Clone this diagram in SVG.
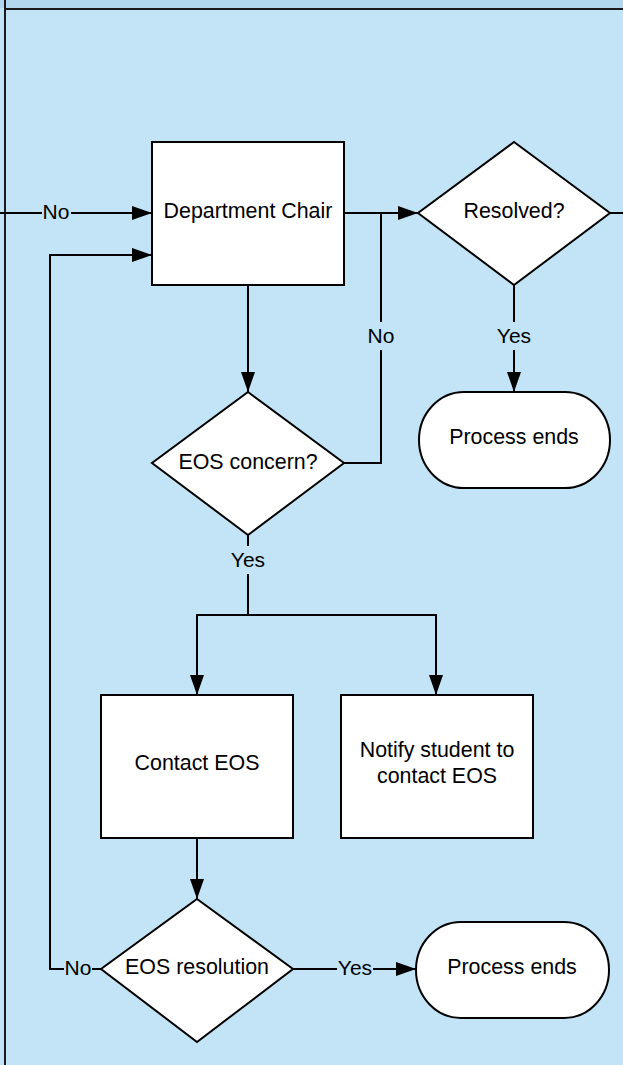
<svg xmlns="http://www.w3.org/2000/svg" width="623" height="1065" viewBox="0 0 623 1065">
<defs>
<style>
.shape{fill:#ffffff;stroke:#000000;stroke-width:2}
.line{fill:none;stroke:#000000;stroke-width:2}
.t{font-family:"Liberation Sans",Arial,sans-serif;font-size:21.4px;fill:#000000;text-anchor:middle;dominant-baseline:central}
.lbl{font-family:"Liberation Sans",Arial,sans-serif;font-size:21px;fill:#000000;text-anchor:middle;dominant-baseline:central}
.bg{fill:#c2e4f6}
</style>
<marker id="arr" viewBox="0 0 20 14" refX="20" refY="7" markerWidth="20" markerHeight="14" markerUnits="userSpaceOnUse" orient="auto">
<path d="M0,0 L20,7 L0,14 Z" fill="#000000"/>
</marker>
</defs>
<rect x="0" y="0" width="623" height="1065" class="bg"/>
<rect x="0" y="0" width="623" height="8" fill="#b3d6ef"/>
<line x1="5" y1="9" x2="623" y2="9" stroke="#1a1a1a" stroke-width="2"/>
<line x1="5" y1="0" x2="5" y2="1065" stroke="#1a1a1a" stroke-width="2"/>

<g id="connectors">
<path class="line" d="M0,213 H152" marker-end="url(#arr)"/>
<path class="line" d="M101,969 H50 V255 H152" marker-end="url(#arr)"/>
<path class="line" d="M344,213 H418" marker-end="url(#arr)"/>
<path class="line" d="M344,463 H381 V213"/>
<path class="line" d="M610,213 H623"/>
<path class="line" d="M248,285 V392" marker-end="url(#arr)"/>
<path class="line" d="M514,285 V392" marker-end="url(#arr)"/>
<path class="line" d="M248,535 V615 H197 V695" marker-end="url(#arr)"/>
<path class="line" d="M248,615 H436 V695" marker-end="url(#arr)"/>
<path class="line" d="M197,838 V899" marker-end="url(#arr)"/>
<path class="line" d="M293,969 H416" marker-end="url(#arr)"/>
<rect x="42" y="200" width="29" height="26" class="bg"/>
<text class="lbl" x="56" y="211">No</text>
<rect x="64" y="956" width="28" height="26" class="bg"/>
<text class="lbl" x="78" y="967">No</text>
<rect x="366" y="322" width="30" height="28" class="bg"/>
<text class="lbl" x="381" y="335">No</text>
<rect x="496" y="322" width="36" height="28" class="bg"/>
<text class="lbl" x="514" y="335">Yes</text>
<rect x="230" y="546" width="36" height="28" class="bg"/>
<text class="lbl" x="248" y="559">Yes</text>
<rect x="337" y="956" width="36" height="26" class="bg"/>
<text class="lbl" x="355" y="967">Yes</text>
</g>

<g id="dept-chair">
<rect class="shape" x="152" y="142" width="192" height="143"/>
<text class="t" x="248" y="210.5">Department Chair</text>
</g>
<g id="resolved">
<polygon class="shape" points="514,142 610,213 514,285 418,213"/>
<text class="t" x="514" y="210.5">Resolved?</text>
</g>
<g id="process-ends-1">
<rect class="shape" x="419" y="392" width="191" height="96" rx="45" ry="48"/>
<text class="t" x="514" y="436.5">Process ends</text>
</g>
<g id="eos-concern">
<polygon class="shape" points="248,392 344,463 248,535 152,463"/>
<text class="t" x="248" y="461.5">EOS concern?</text>
</g>
<g id="contact-eos">
<rect class="shape" x="101" y="695" width="192" height="143"/>
<text class="t" x="197" y="763">Contact EOS</text>
</g>
<g id="notify-student">
<rect class="shape" x="341" y="695" width="192" height="143"/>
<text class="t" x="437" y="750">Notify student to</text>
<text class="t" x="437" y="776">contact EOS</text>
</g>
<g id="eos-resolution">
<polygon class="shape" points="197,899 293,969 197,1042 101,969"/>
<text class="t" x="197" y="967">EOS resolution</text>
</g>
<g id="process-ends-2">
<rect class="shape" x="416" y="922" width="193" height="96" rx="45" ry="48"/>
<text class="t" x="512" y="967">Process ends</text>
</g>
</svg>
